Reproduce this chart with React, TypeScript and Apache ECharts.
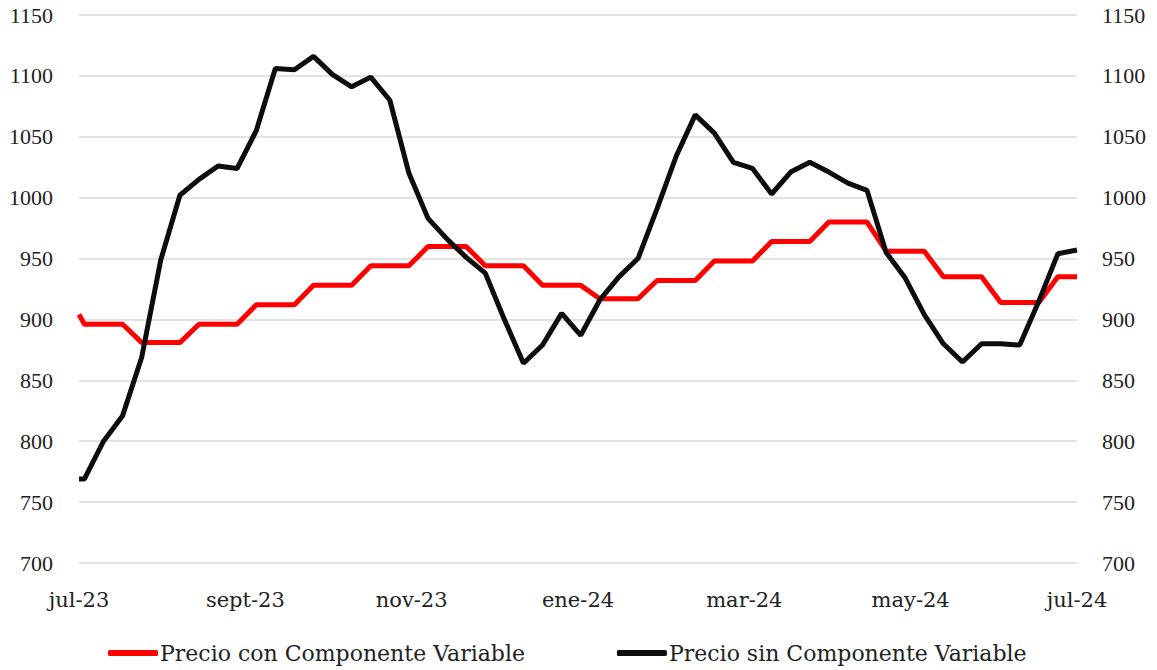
import React, { useEffect, useRef } from "react";
import * as echarts from "echarts";

const dates = [
  "2023-07-01", "2023-07-03", "2023-07-10", "2023-07-17", "2023-07-24", "2023-07-31",
  "2023-08-07", "2023-08-14", "2023-08-21", "2023-08-28",
  "2023-09-04", "2023-09-11", "2023-09-18", "2023-09-25",
  "2023-10-02", "2023-10-09", "2023-10-16", "2023-10-23", "2023-10-30",
  "2023-11-06", "2023-11-13", "2023-11-20", "2023-11-27",
  "2023-12-04", "2023-12-11", "2023-12-18", "2023-12-25",
  "2024-01-01", "2024-01-08", "2024-01-15", "2024-01-22", "2024-01-29",
  "2024-02-05", "2024-02-12", "2024-02-19", "2024-02-26",
  "2024-03-04", "2024-03-11", "2024-03-18", "2024-03-25",
  "2024-04-01", "2024-04-08", "2024-04-15", "2024-04-22", "2024-04-29",
  "2024-05-06", "2024-05-13", "2024-05-20", "2024-05-27",
  "2024-06-03", "2024-06-10", "2024-06-17", "2024-06-24", "2024-07-01",
];

const precioCon = [
  904, 896, 896, 896, 881, 881, 881, 896, 896, 896, 912, 912, 912, 928, 928, 928,
  944, 944, 944, 960, 960, 960, 944, 944, 944, 928, 928, 928, 917, 917, 917,
  932, 932, 932, 948, 948, 948, 964, 964, 964, 980, 980, 980, 956, 956, 956,
  935, 935, 935, 914, 914, 914, 935, 935,
];

const precioSin = [
  769, 769, 800, 821, 869, 949, 1002, 1015, 1026, 1024, 1055, 1106, 1105, 1116,
  1101, 1091, 1099, 1080, 1020, 983, 966, 951, 938, 900, 864, 879, 905, 887, 916,
  935, 950, 991, 1034, 1068, 1053, 1029, 1024, 1003, 1021, 1029, 1021, 1012, 1006,
  955, 934, 904, 880, 865, 880, 880, 879, 915, 954, 957,
];

const xTickLabels = ["jul-23", "sept-23", "nov-23", "ene-24", "mar-24", "may-24", "jul-24"];
const seriesNames = ["Precio con Componente Variable", "Precio sin Componente Variable"];

const startMs = Date.UTC(2023, 6, 1);
const dayOf = (d: string) => {
  const [y, m, dd] = d.split("-").map(Number);
  return Math.round((Date.UTC(y, m - 1, dd) - startMs) / 86400000);
};

export default function App() {
  const ref = useRef<HTMLDivElement>(null);
  useEffect(() => {
    if (!ref.current) return;
    const chart = echarts.init(ref.current, undefined, { renderer: "svg" });
    const days = dates.map(dayOf);
    const yLabel = {
      fontFamily: "Liberation Serif",
      fontSize: 22,
      color: "#222",
      margin: 26,
      formatter: (v: number) => String(v),
    };
    const yAxisBase = {
      type: "value" as const,
      min: 700,
      max: 1150,
      interval: 50,
      axisLine: { show: false },
      axisTick: { show: false },
    };
    chart.setOption({
      animation: false,
      backgroundColor: "#ffffff",
      grid: { left: 79, right: 80, top: 15, bottom: 107, containLabel: false },
      legend: {
        data: seriesNames,
        left: 103,
        top: 637,
        icon: "roundRect",
        itemWidth: 50,
        itemHeight: 6,
        itemGap: 92,
        textStyle: { fontFamily: "DejaVu Serif", fontSize: 22, color: "#222", padding: [0, 0, 0, -3] },
      },
      xAxis: {
        type: "value",
        min: 0,
        max: 366,
        interval: 61,
        axisLine: { show: false },
        axisTick: { show: false },
        splitLine: { show: false },
        axisLabel: {
          fontFamily: "DejaVu Serif",
          fontSize: 21,
          color: "#222",
          margin: 26,
          formatter: (v: number) => xTickLabels[Math.round(v / 61)] ?? "",
        },
      },
      yAxis: [
        {
          ...yAxisBase,
          position: "left",
          axisLabel: yLabel,
          splitLine: { show: true, lineStyle: { color: "#d9d9d9", width: 1.5 } },
        },
        {
          ...yAxisBase,
          position: "right",
          axisLabel: { ...yLabel, margin: 25 },
          splitLine: { show: false },
        },
      ],
      series: [
        {
          name: seriesNames[0],
          type: "line",
          data: days.map((d, i) => [d, precioCon[i]]),
          showSymbol: false,
          symbol: "none",
          lineStyle: { color: "#ff0000", width: 5 },
          itemStyle: { color: "#ff0000" },
          yAxisIndex: 0,
        },
        {
          name: seriesNames[1],
          type: "line",
          data: days.map((d, i) => [d, precioSin[i]]),
          showSymbol: false,
          symbol: "none",
          lineStyle: { color: "#0d0d0d", width: 5 },
          itemStyle: { color: "#0d0d0d" },
          yAxisIndex: 0,
        },
      ],
    });
    return () => chart.dispose();
  }, []);
  return (
    <div
      ref={ref}
      style={{ position: "fixed", left: 0, top: 0, width: 1157, height: 670, background: "#fff" }}
    />
  );
}
